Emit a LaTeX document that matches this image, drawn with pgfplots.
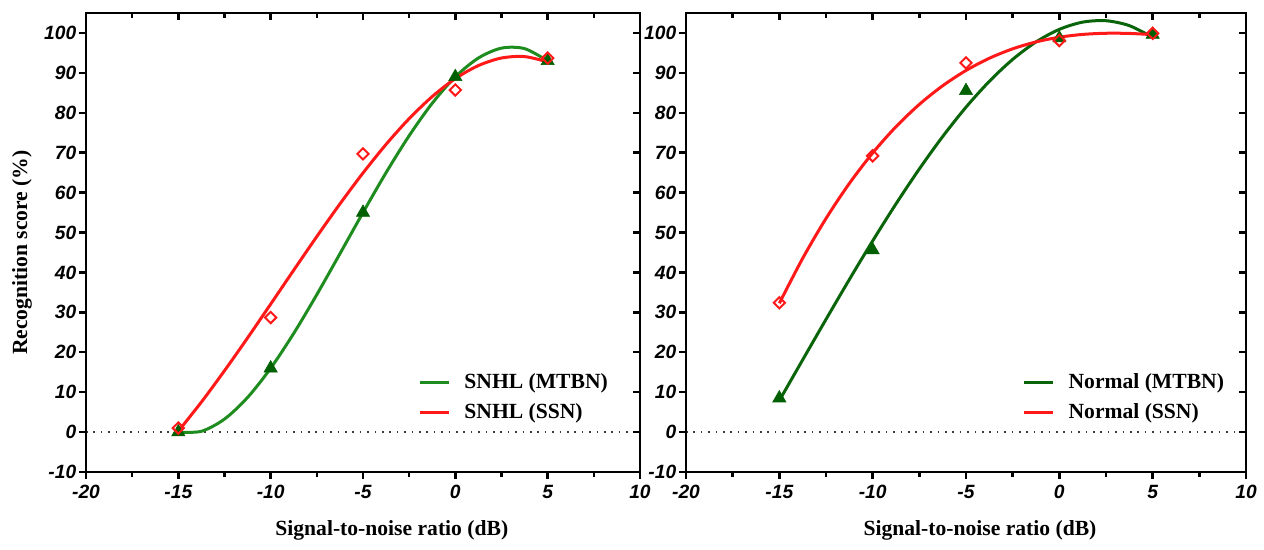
\documentclass[border=0pt]{standalone}
\usepackage{fontspec}
\setmainfont{Liberation Serif}
\newfontfamily\tickfont{Liberation Sans}
\usepackage{pgfplots}
\pgfplotsset{compat=1.18}
\definecolor{gL}{RGB}{30,140,30}
\definecolor{gD}{RGB}{10,100,10}
\definecolor{gM}{RGB}{0,95,0}
\definecolor{rC}{RGB}{255,25,25}
\definecolor{dotc}{RGB}{60,60,60}
\pgfplotsset{
  base/.style={scale only axis, height=229.5pt,
    xmin=-20, xmax=10, ymin=-10, ymax=105,
    xtick={-20,-15,-10,-5,0,5,10}, ytick={-10,0,10,20,30,40,50,60,70,80,90,100},
    minor x tick num=1,
    axis line style={line width=1.3pt},
    every tick/.style={line width=1.2pt, black},
    major tick length=3.5pt, minor tick length=2.3pt},
  main/.style={base, xtick pos=left, ytick pos=left, tick align=outside,
    xticklabels={-20,-15,-10,-5,0,5,10},
    yticklabels={-10,0,10,20,30,40,50,60,70,80,90,100},
    ticklabel style={font=\tickfont\bfseries\itshape\fontsize{9.6}{10}\selectfont},
    yticklabel style={inner xsep=1.2pt},
    xticklabel style={inner ysep=3pt},
    xlabel={Signal-to-noise ratio (dB)},
    label style={font=\bfseries\fontsize{10.8}{12}\selectfont},
    legend style={draw=none, fill=none, inner sep=0pt, anchor=west,
      font=\bfseries\fontsize{10.8}{12}\selectfont, row sep=2pt,
      /tikz/every odd column/.append style={column sep=5pt}},
    legend cell align=left,
    legend image code/.code={\draw[##1, line width=1.6pt] (0pt,0pt) -- (14.5pt,0pt);}},
  over/.style={base, xtick pos=right, ytick pos=right, tick align=inside,
    xticklabels={}, yticklabels={}},
  curve/.style={smooth, line width=1.5pt, no marks},
  tri/.style={only marks, mark=triangle*, mark size=3.8pt, mark options={fill=gM, draw=gM, line width=0.3pt}, forget plot},
  dia/.style={only marks, mark=square, mark size=2pt, mark options={draw=rC, fill=none, line width=1pt, rotate=45}, forget plot},
  zero/.style={dotc, line width=0.9pt, dash pattern=on 0.8pt off 2.9pt, forget plot}
}
\begin{document}
\begin{tikzpicture}
\useasboundingbox (-43pt,-39pt) rectangle (589pt,236pt);
% ---------- left panel ----------
\begin{axis}[main, width=277pt, at={(0pt,0pt)}, anchor=south west,
  xlabel style={at={(axis description cs:0.552,-0.128)}, anchor=center},
  ylabel={Recognition score (\%)},
  ylabel style={at={(axis description cs:-0.1155,0.478)}, anchor=center},
  legend style={at={(axis description cs:0.599,0.162)}}]
\addplot[zero] coordinates {(-20,0) (10,0)};
\addplot[curve, gL] coordinates {
(-15,0) (-13.75,0.2) (-12.5,3.26) (-11.25,8.68) (-10,16) (-8.75,24.74)
(-7.5,34.45) (-6.25,44.68) (-5,55) (-3.75,65.0) (-2.5,74.26) (-1.25,82.39)
(0,89) (1.25,93.72) (2.5,96.2) (3.75,96.07) (5,93)};
\addlegendentry{SNHL (MTBN)}
\addplot[curve, rC] coordinates {
(-15,0.24) (-13.75,7.53) (-12.5,15.38) (-11.25,23.6) (-10,32.06) (-8.75,40.58)
(-7.5,49.0) (-6.25,57.16) (-5,64.91) (-3.75,72.09) (-2.5,78.53) (-1.25,84.07)
(0,88.56) (1.25,91.83) (2.5,93.72) (3.75,94.08) (5,92.74)};
\addlegendentry{SNHL (SSN)}
\addplot[tri] coordinates {(-15,0) (-10,16) (-5,55) (0,89) (5,93)};
\addplot[dia] coordinates {(-15,1) (-10,28.7) (-5,69.7) (0,85.7) (5,93.7)};
\end{axis}
\begin{axis}[over, width=277pt, at={(0pt,0pt)}, anchor=south west]
\end{axis}
% ---------- right panel ----------
\begin{axis}[main, width=280pt, at={(300pt,0pt)}, anchor=south west,
  xlabel style={at={(axis description cs:0.525,-0.128)}, anchor=center},
  legend style={at={(axis description cs:0.6,0.162)}}]
\addplot[zero] coordinates {(-20,0) (10,0)};
\addplot[curve, gD] coordinates {
(-15,7.9) (-13.75,18.1) (-12.5,28.24) (-11.25,38.22) (-10,47.9) (-8.75,57.18)
(-7.5,65.93) (-6.25,74.04) (-5,81.4) (-3.75,87.88) (-2.5,93.37) (-1.25,97.75)
(0,100.9) (1.25,102.71) (2.5,103.06) (3.75,101.83) (5,98.9)};
\addlegendentry{Normal (MTBN)}
\addplot[curve, rC] coordinates {
(-15,32.27) (-13.75,43.53) (-12.5,53.51) (-11.25,62.29) (-10,69.93) (-8.75,76.51)
(-7.5,82.1) (-6.25,86.77) (-5,90.6) (-3.75,93.66) (-2.5,96.02) (-1.25,97.75)
(0,98.93) (1.25,99.63) (2.5,99.92) (3.75,99.88) (5,99.57)};
\addlegendentry{Normal (SSN)}
\addplot[tri] coordinates {(-15,8.5) (-10,45.6) (-5,85.5) (0,98.7) (5,99.6)};
\addplot[dia] coordinates {(-15,32.4) (-10,69.2) (-5,92.5) (0,98.1) (5,99.9)};
\end{axis}
\begin{axis}[over, width=280pt, at={(300pt,0pt)}, anchor=south west]
\end{axis}
\end{tikzpicture}
\end{document}
